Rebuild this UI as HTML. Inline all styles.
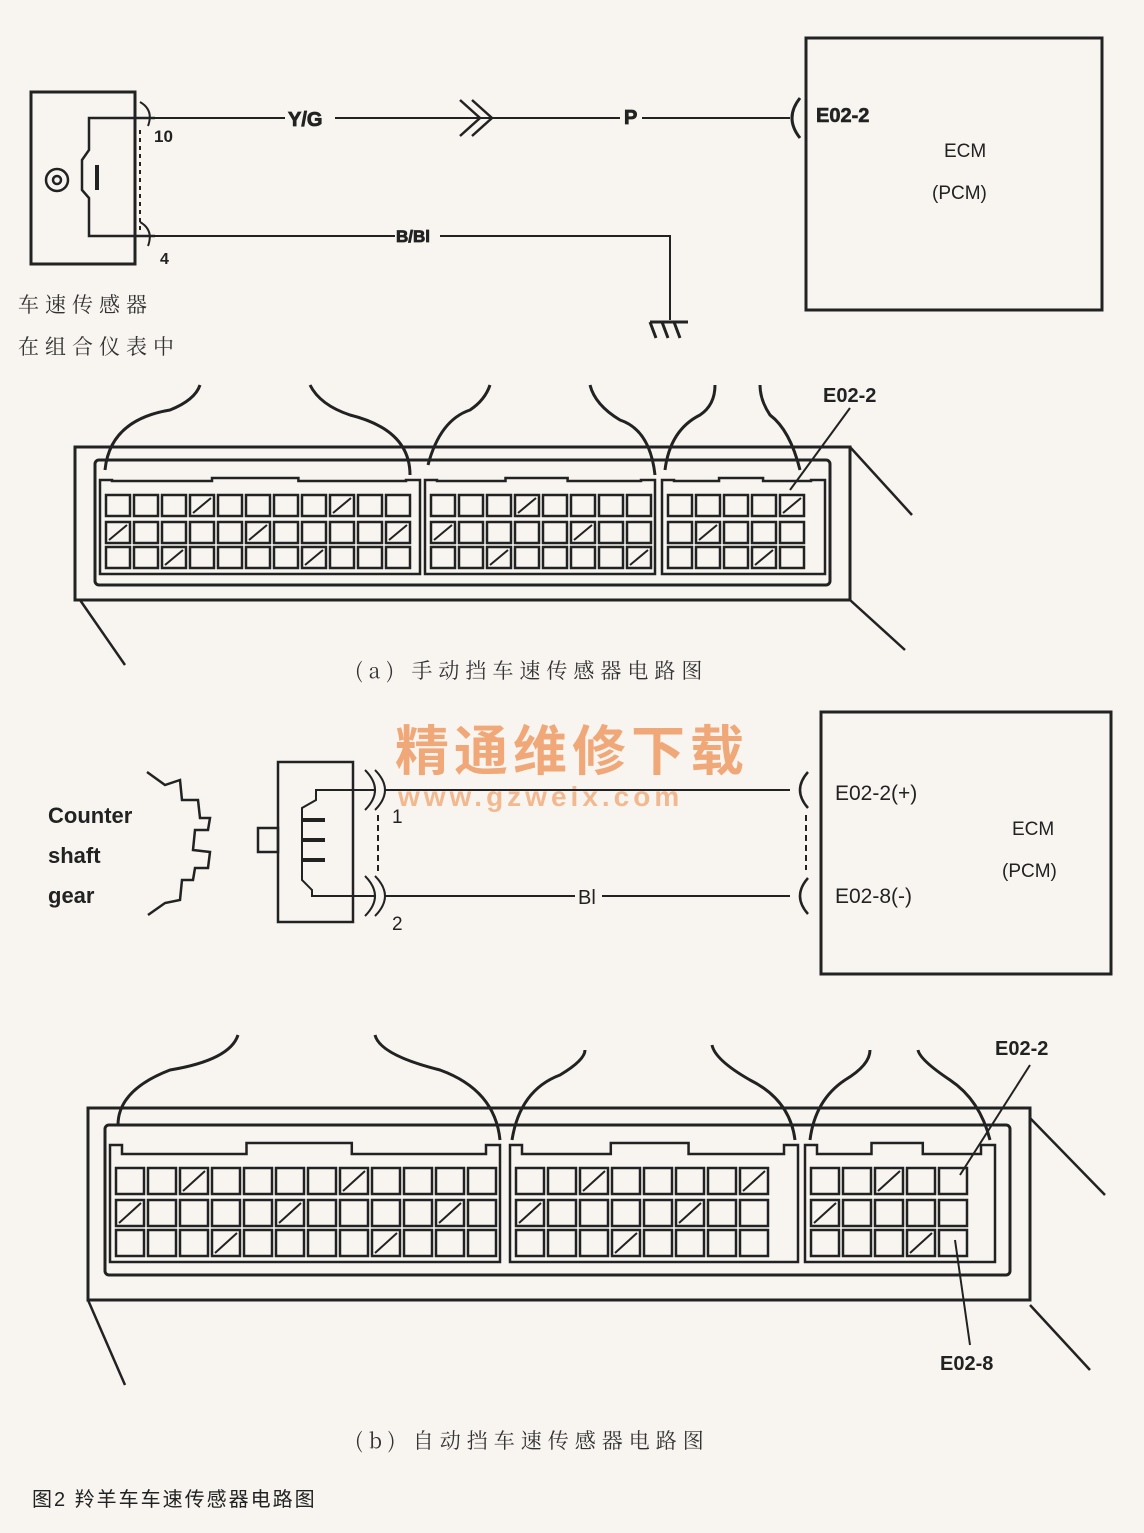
<!DOCTYPE html>
<html><head><meta charset="utf-8"><style>
html,body{margin:0;padding:0;background:#f8f5f1;}
svg{display:block}
text{font-family:"Liberation Sans","Noto Sans CJK SC",sans-serif;fill:#222}
.s{font-family:"Noto Serif CJK SC","Liberation Serif",serif;fill:#333}
</style></head><body>
<svg id="g" width="1144" height="1533" viewBox="0 0 1144 1533" xmlns="http://www.w3.org/2000/svg" fill="none" stroke="#222" stroke-width="2.5">
<rect x="31" y="92" width="104" height="172" stroke-width="3"/>
<path d="M155 118 H89 V150 L82 160 V190 L89 198 V236 H155"/>
<line x1="97" y1="165" x2="97" y2="190" stroke-width="4"/>
<circle cx="57" cy="180" r="11"/><circle cx="57" cy="180" r="4"/>
<path d="M140 102 Q154 110 148 126 M140 222 Q154 230 148 246" stroke-width="2"/>
<line x1="140" y1="130" x2="140" y2="230" stroke-dasharray="4,4" stroke-width="2"/>
<text x="154" y="142" font-size="17" font-weight="bold" stroke="none">10</text>
<text x="160" y="264" font-size="16" font-weight="bold" stroke="none">4</text>
<line x1="155" y1="118" x2="285" y2="118" stroke-width="2"/>
<text x="288" y="126" font-size="20" font-weight="bold" stroke="#222" stroke-width="0.8">Y/G</text>
<line x1="335" y1="118" x2="620" y2="118" stroke-width="2"/>
<path d="M460 100 L480 118 L460 136 M472 100 L492 118 L472 136" stroke-width="2.5"/>
<text x="624" y="124" font-size="20" font-weight="bold" stroke="#222" stroke-width="0.8">P</text>
<line x1="642" y1="118" x2="790" y2="118" stroke-width="2"/>
<path d="M800 98 Q784 118 800 138" stroke-width="3"/>
<line x1="155" y1="236" x2="395" y2="236" stroke-width="2"/>
<text x="396" y="242" font-size="17" font-weight="bold" stroke="#222" stroke-width="0.8">B/Bl</text>
<path d="M440 236 H670 V320" stroke-width="2"/>
<path d="M650 322 L656 338 M662 322 L668 338 M674 322 L680 338 M650 322 H688" stroke-width="3"/>
<text x="18" y="312" font-size="21" class="s" stroke="none" letter-spacing="6">车速传感器</text>
<text x="18" y="354" font-size="21" class="s" stroke="none" letter-spacing="6">在组合仪表中</text>
<rect x="806" y="38" width="296" height="272" stroke-width="3"/>
<text x="816" y="122" font-size="20" font-weight="bold" stroke="#222" stroke-width="0.6">E02-2</text>
<text x="944" y="157" font-size="19" stroke="none">ECM</text>
<text x="932" y="199" font-size="19" stroke="none">(PCM)</text>
<g id="ca"></g>
<text x="355" y="678" font-size="21" class="s" stroke="none" letter-spacing="6">(a) 手动挡车速传感器电路图</text>
<text x="395" y="770" font-size="54" font-weight="bold" stroke="none" style="fill:#f0a878" letter-spacing="5">精通维修下载</text>
<text x="398" y="806" font-size="28" font-weight="bold" stroke="none" style="fill:#f2b890" letter-spacing="4">www.gzweix.com</text>
<text x="48" y="823" font-size="22" font-weight="bold" stroke="none">Counter</text>
<text x="48" y="863" font-size="22" font-weight="bold" stroke="none">shaft</text>
<text x="48" y="903" font-size="22" font-weight="bold" stroke="none">gear</text>
<path d="M147 772 L165 785 L180 780 L182 800 L198 800 L200 818 L210 818 L208 830 L195 830 L193 850 L210 852 L208 868 L195 868 L193 880 L182 880 L180 900 L165 903 L148 915" stroke-width="2.5"/>
<rect x="278" y="762" width="75" height="160" stroke-width="2.5"/>
<rect x="258" y="828" width="20" height="24" stroke-width="2.5"/>
<path d="M375 790 H316 V800 L302 808 V880 L312 890 V896 H375" stroke-width="2"/>
<path d="M302 820 H325 M302 840 H325 M302 860 H325" stroke-width="4"/>
<path d="M365 770 Q385 790 365 810 M375 770 Q395 790 375 810 M365 876 Q385 896 365 916 M375 876 Q395 896 375 916" stroke-width="2"/>
<line x1="378" y1="815" x2="378" y2="872" stroke-dasharray="6,4" stroke-width="2"/>
<text x="392" y="823" font-size="19" stroke="none">1</text>
<text x="392" y="930" font-size="19" stroke="none">2</text>
<line x1="385" y1="790" x2="790" y2="790" stroke-width="2"/>
<line x1="385" y1="896" x2="575" y2="896" stroke-width="2"/>
<text x="578" y="904" font-size="20" stroke="none">Bl</text>
<line x1="602" y1="896" x2="790" y2="896" stroke-width="2"/>
<path d="M808 772 Q792 790 808 808 M808 878 Q792 896 808 914" stroke-width="2.5"/>
<line x1="806" y1="815" x2="806" y2="870" stroke-dasharray="6,4" stroke-width="2"/>
<rect x="821" y="712" width="290" height="262" stroke-width="3"/>
<text x="835" y="800" font-size="21" stroke="none">E02-2(+)</text>
<text x="835" y="903" font-size="21" stroke="none">E02-8(-)</text>
<text x="1012" y="835" font-size="19" stroke="none">ECM</text>
<text x="1002" y="877" font-size="19" stroke="none">(PCM)</text>
<g id="cb"></g>
<text x="355" y="1448" font-size="21" class="s" stroke="none" letter-spacing="6">(b) 自动挡车速传感器电路图</text>
<text x="32" y="1506" font-size="20" stroke="none" letter-spacing="2">图2  羚羊车车速传感器电路图</text>
</svg>
<script>
var NS="http://www.w3.org/2000/svg";
function el(p,t,a){var e=document.createElementNS(NS,t);for(var k in a)e.setAttribute(k,a[k]);p.appendChild(e);return e;}
function conn(id,o){
 var g=document.getElementById(id);
 el(g,"rect",{x:o.x,y:o.y,width:o.w,height:o.h,"stroke-width":3});
 o.persp.forEach(function(l){el(g,"line",{x1:l[0],y1:l[1],x2:l[2],y2:l[3],"stroke-width":2.5});});
 el(g,"rect",{x:o.ix,y:o.iy,width:o.iw,height:o.ih,"stroke-width":3,rx:4});
 o.wires.forEach(function(w){el(g,"path",{d:w,"stroke-width":3});});
 o.secs.forEach(function(s){
  var x0=s[0],x1=s[1];
  el(g,"path",{d:"M"+x0+" "+(o.ry[0]-4)+" V"+(o.iy+20)+" H"+(x0+12)+" V"+(o.ry[0]-14)+" H"+(x0+(x1-x0)*0.35)+" V"+(o.iy+18)+" H"+(x0+(x1-x0)*0.62)+" V"+(o.ry[0]-14)+" H"+(x1-14)+" V"+(o.iy+20)+" H"+x1+" V"+(o.ry[2]+o.ch+6)+" H"+x0+" Z","stroke-width":2.5});
  for(var r=0;r<3;r++){
   for(var x=x0+6;x+o.cw<=x1-4;x+=o.cw+4){
    el(g,"rect",{x:x,y:o.ry[r],width:o.cw,height:o.ch,"stroke-width":2.5});
    if(((x*7+r*13)|0)%5==0) el(g,"line",{x1:x+3,y1:o.ry[r]+o.ch-3,x2:x+o.cw-3,y2:o.ry[r]+3,"stroke-width":2});
   }
  }
 });
 o.labels.forEach(function(l){var t=el(g,"text",{x:l[0],y:l[1],"font-size":20,"font-weight":"bold",stroke:"none"});t.textContent=l[2];});
 o.leaders.forEach(function(l){el(g,"line",{x1:l[0],y1:l[1],x2:l[2],y2:l[3],"stroke-width":2});});
}
conn("ca",{x:75,y:447,w:775,h:153,ix:95,iy:460,iw:735,ih:125,
 persp:[[850,447,912,515],[850,600,905,650],[80,600,125,665]],
 secs:[[100,420],[425,655],[662,825]],ry:[495,522,547],cw:24,ch:21,
 wires:["M105 470 Q110 420 170 410 Q195 400 200 385","M410 475 Q410 430 350 415 Q320 405 310 385","M428 465 Q440 420 470 410 Q485 400 490 385","M655 475 Q650 430 620 420 Q595 405 590 385","M665 470 Q670 430 700 415 Q715 405 715 385","M800 470 Q790 430 770 415 Q760 400 760 385"],
 labels:[[823,402,"E02-2"]],leaders:[[850,408,790,490]]});
conn("cb",{x:88,y:1108,w:942,h:192,ix:105,iy:1125,iw:905,ih:150,
 persp:[[1030,1118,1105,1195],[1030,1305,1090,1370],[88,1300,125,1385]],
 secs:[[110,500],[510,798],[805,995]],ry:[1168,1200,1230],cw:28,ch:26,
 wires:["M118 1125 Q118 1090 170 1070 Q230 1060 238 1035","M500 1140 Q495 1090 440 1070 Q380 1055 375 1035","M512 1140 Q520 1090 560 1075 Q585 1060 585 1050","M795 1140 Q790 1100 750 1080 Q715 1060 712 1045","M810 1140 Q815 1100 845 1080 Q870 1065 870 1050","M990 1140 Q980 1100 950 1080 Q920 1060 918 1050"],
 labels:[[995,1055,"E02-2"],[940,1370,"E02-8"]],leaders:[[1030,1065,960,1175],[970,1345,955,1240]]});
</script>
</body></html>
